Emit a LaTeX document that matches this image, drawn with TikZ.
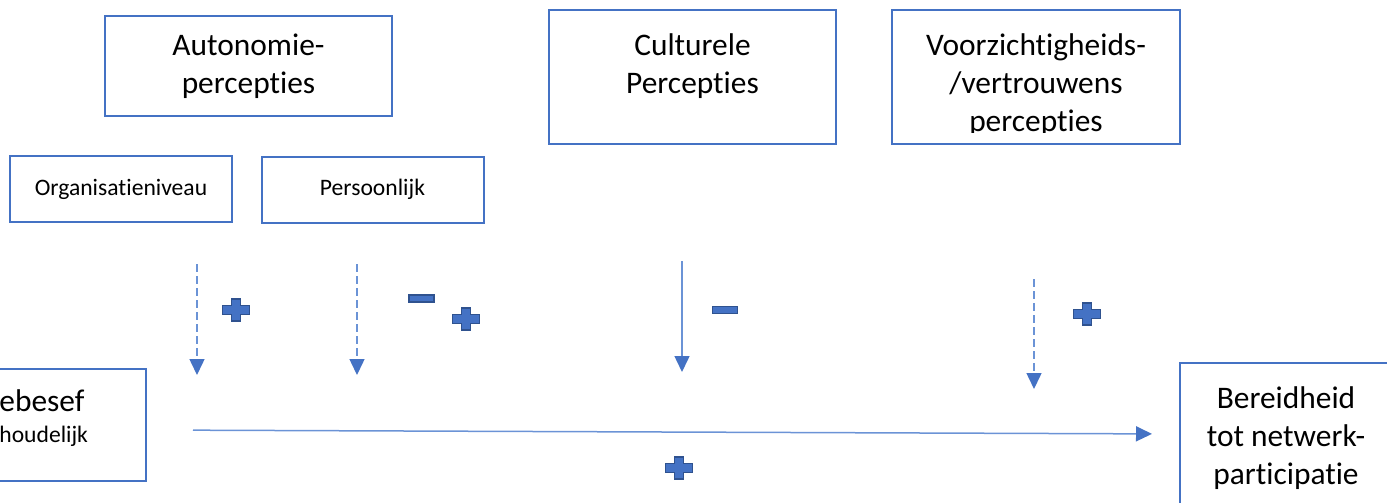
\documentclass[tikz,border=0pt]{standalone}
\usepackage{fontspec}
\setmainfont{Carlito}[Ligatures={NoCommon,NoContextual}]
\usetikzlibrary{arrows.meta,calc}
\definecolor{boxblue}{HTML}{4472C4}
\definecolor{lineblue}{HTML}{6B93D6}
\definecolor{signedge}{HTML}{2F528F}
\newcommand{\bigfont}{\fontsize{15.7pt}{19pt}\selectfont}
\newcommand{\smallfont}{\fontsize{11.8pt}{14pt}\selectfont}
\begin{document}
\begin{tikzpicture}[x=0.5pt,y=-0.5pt,
	box/.style={draw=boxblue, line width=1pt, inner sep=0pt, align=center, font=\bigfont},
	subbox/.style={box, font=\smallfont, minimum width=111pt, minimum height=33pt},
	txt/.style={inner sep=0pt, align=center, font=\bigfont},
	moder/.style={draw=lineblue, line width=0.75pt, dash pattern=on 4pt off 2pt, -{Triangle[length=8pt,width=7.5pt,color=boxblue]}},
	effect/.style={draw=lineblue, line width=0.75pt, -{Triangle[length=8pt,width=7.5pt,color=boxblue]}},
	pics/plussign/.style={code={\draw[fill=boxblue, draw=signedge, line width=0.6pt] (-13.5,-4.5) -- (-4.5,-4.5) -- (-4.5,-11) -- (4.5,-11) -- (4.5,-4.5) -- (13.5,-4.5) -- (13.5,4.5) -- (4.5,4.5) -- (4.5,11) -- (-4.5,11) -- (-4.5,4.5) -- (-13.5,4.5) -- cycle;}},
	pics/minsign/.style={code={\draw[fill=boxblue, draw=signedge, line width=0.6pt] (-12.5,-3.5) rectangle (12.5,3.5);}}]
	\useasboundingbox (0,0) rectangle (1387,503);
	\clip (0,0) rectangle (1387,503);
	% perceptions
	\node[box, minimum width=143.5pt, minimum height=50pt] (auto) at (248.5,66) {Autonomie-\\percepties};
	\node[subbox] (org) at (121,189) {Organisatieniveau};
	\node[subbox] (pers) at (372.5,189.5) {Persoonlijk};
	\node[box, minimum width=143.5pt, minimum height=67pt] (cult) at (692.5,77) {};
	\node[txt, anchor=north] (cultlbl) at (cult.north |- 0,33) {Culturele\\Percepties};
	\node[box, minimum width=144pt, minimum height=67pt] (voorz) at (1036,77) {};
	\begin{scope}
		\clip (892,10) rectangle (1180,132);
		\node[txt, anchor=north] (voorzlbl) at (voorz.north |- 0,33) {Voorzichtigheids-\\/vertrouwens\\percepties};
	\end{scope}
	% main relation
	\node[box, minimum width=103pt, minimum height=56pt] (besef) at (43,425) {};
	\node[txt, anchor=base west] (besefa) at (-1,411.5) {ebesef};
	\node[txt, font=\smallfont, anchor=base west] (besefb) at (-1,442) {houdelijk};
	\node[box, minimum width=106pt, minimum height=75pt] (bereid) at (1286,438) {Bereidheid\\tot netwerk-\\participatie};
	\draw[effect, shorten <=23pt, shorten >=13.5pt] ($(besef.east)+(0,5)$) -- ($(bereid.west)+(0,-4)$);
	% moderators
	\coordinate (orgtop) at (197,264);
	\coordinate (orgend) at (197,375);
	\coordinate (perstop) at (357,264);
	\coordinate (persend) at (357,375);
	\coordinate (culttop) at (682,261);
	\coordinate (cultend) at (682,372);
	\coordinate (voorztop) at (1034,279);
	\coordinate (voorzend) at (1034,389);
	\draw[moder] (orgtop) -- (orgend);
	\draw[moder] (perstop) -- (persend);
	\draw[effect] (culttop) -- (cultend);
	\draw[moder] (voorztop) -- (voorzend);
	% signs
	\pic (orgplus) at (236,310) {plussign};
	\pic (persmin) at (421.5,298.5) {minsign};
	\pic (persplus) at (466,319) {plussign};
	\pic (cultmin) at (725,310) {minsign};
	\pic (voorzplus) at (1087,314) {plussign};
	\pic (mainplus) at (679,468) {plussign};
\end{tikzpicture}
\end{document}
